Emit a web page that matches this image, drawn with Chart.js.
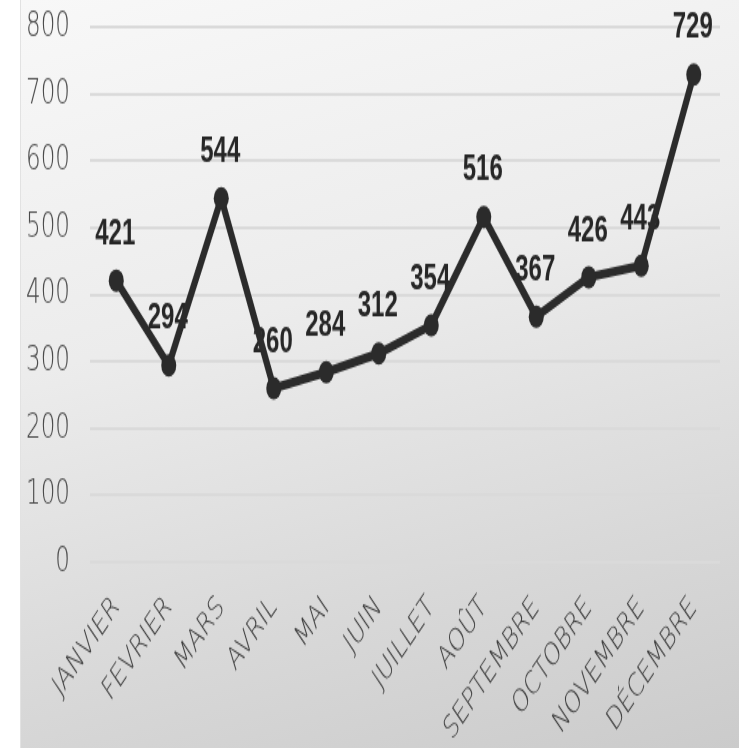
<!DOCTYPE html>
<html lang="fr">
<head>
    <meta charset="UTF-8">
    <title>Ventes par mois</title>
    <script src="https://cdn.jsdelivr.net/npm/chart.js"></script>
    <style>
        html, body {
            margin: 0;
            padding: 0;
            background: #ffffff;
            overflow: hidden;
        }

        #panel {
            position: absolute;
            left: 20px;
            top: 0;
            width: 719px;
            height: 748px;
            border-left: 1px solid #e2e2e2;
            background: linear-gradient(165deg, #f8f8f8 0%, #ececec 40%, #d8d8d8 75%, #cbcbcb 100%);
        }

        /* the chart is drawn flat and then stretched vertically */
        #ventesChart {
            position: absolute;
            left: 0;
            top: 0;
            transform-origin: 0 0;
            transform: scaleY(1.499);
        }
    </style>
</head>
<body>

    <div id="panel"></div>
    <canvas id="ventesChart" width="739" height="499"></canvas>

    <script>
        const mois = ['JANVIER', 'FEVRIER', 'MARS', 'AVRIL', 'MAI', 'JUIN', 'JUILLET',
                      'AOÛT', 'SEPTEMBRE', 'OCTOBRE', 'NOVEMBRE', 'DÉCEMBRE'];
        const ventes = [421, 294, 544, 260, 284, 312, 354, 516, 367, 426, 443, 729];
        const yTicks = [0, 100, 200, 300, 400, 500, 600, 700, 800];

        // value labels above each point, painted under the line
        const valueLabels = {
            id: 'valueLabels',
            beforeDatasetsDraw(chart) {
                const ctx = chart.ctx;
                const meta = chart.getDatasetMeta(0);
                ctx.save();
                ctx.font = 'bold 24px "Liberation Sans", Arial, sans-serif';
                ctx.fillStyle = '#262626';
                ctx.textAlign = 'center';
                ctx.textBaseline = 'middle';
                meta.data.forEach((pt, i) => {
                    ctx.fillText(String(ventes[i]), pt.x - 1, pt.y - 31);
                });
                ctx.restore();
            }
        };

        const ctx = document.getElementById('ventesChart').getContext('2d');
        new Chart(ctx, {
            type: 'line',
            data: {
                labels: mois,
                datasets: [{
                    data: ventes,
                    borderColor: '#2b2b2b',
                    borderWidth: 6,
                    backgroundColor: '#2b2b2b',
                    pointRadius: 7.5,
                    pointBorderWidth: 0,
                    tension: 0,
                    fill: false
                }]
            },
            options: {
                responsive: false,
                animation: false,
                devicePixelRatio: 1,
                layout: {
                    padding: { top: 18, right: 19, left: 0, bottom: 0 }
                },
                plugins: {
                    legend: { display: false },
                    tooltip: { enabled: false }
                },
                scales: {
                    x: {
                        offset: true,
                        grid: { display: false },
                        border: { display: false },
                        ticks: {
                            color: '#3c3c3c',
                            font: { family: '"DejaVu Sans", sans-serif', size: 21, weight: '200' },
                            maxRotation: 45,
                            minRotation: 45,
                            autoSkip: false,
                            padding: 10
                        },
                        afterFit(scale) {
                            scale.height = 124;
                            scale.paddingLeft = 0;
                            scale.paddingRight = 0;
                        }
                    },
                    y: {
                        min: 0,
                        max: 800,
                        afterBuildTicks(scale) {
                            scale.ticks = yTicks.map(v => ({ value: v }));
                        },
                        grid: { color: '#dadada', lineWidth: 2, drawTicks: false },
                        border: { display: false },
                        ticks: {
                            color: '#4a4a4a',
                            font: { family: '"DejaVu Sans", sans-serif', size: 23, weight: '200' },
                            padding: 20
                        },
                        afterFit(scale) {
                            scale.width = 90;
                            scale.paddingTop = 0;
                            scale.paddingBottom = 0;
                        }
                    }
                }
            },
            plugins: [valueLabels]
        });
    </script>
</body>
</html>
